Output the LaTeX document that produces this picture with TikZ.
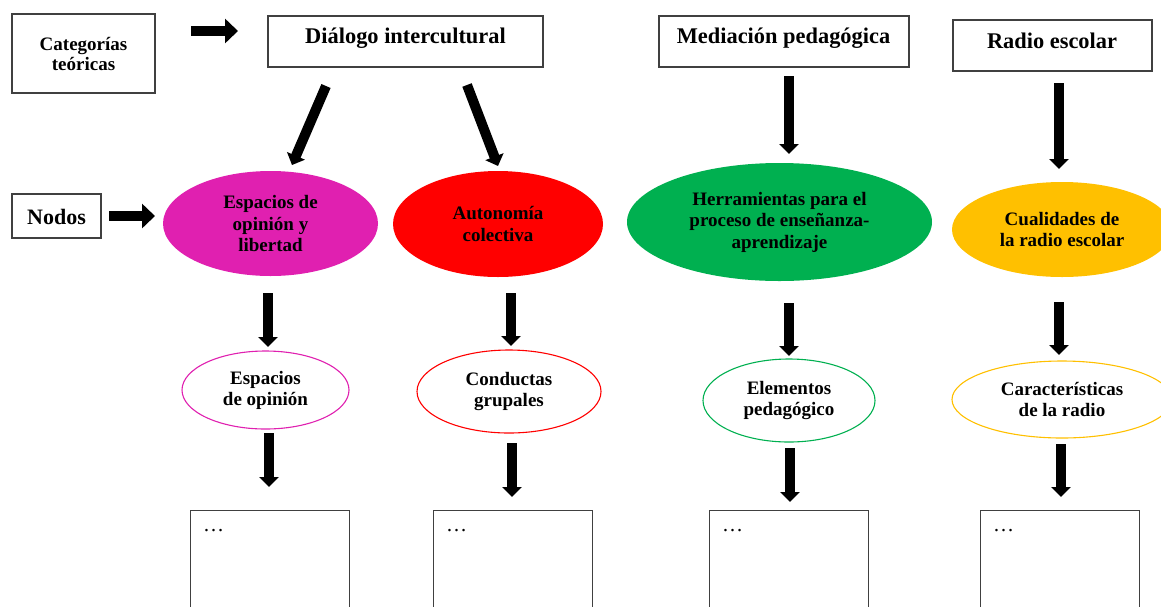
\documentclass[tikz,border=0pt]{standalone}
\usepackage{fontspec}
\setmainfont{Liberation Serif}
\usetikzlibrary{arrows.meta,shapes.geometric}
\definecolor{cmag}{HTML}{E020B0}
\definecolor{cred}{HTML}{FF0000}
\definecolor{cgreen}{HTML}{00B050}
\definecolor{cgold}{HTML}{FFC000}
\definecolor{cframe}{HTML}{404040}
\begin{document}
\begin{tikzpicture}[x=1pt,y=-1pt,
  frame/.style={draw=cframe, line width=1.1pt, rectangle, inner sep=0pt},
  title/.style={font=\bfseries\fontsize{22.4}{26}\selectfont, inner sep=0pt, anchor=base},
  bigell/.style={ellipse, inner sep=0pt, align=center, font=\bfseries\fontsize{19}{21.5}\selectfont},
  smallell/.style={ellipse, fill=white, line width=1.1pt, inner sep=0pt, align=center, font=\bfseries\fontsize{19}{21}\selectfont},
  barrow/.style={line width=10pt, -{Triangle[length=10pt,width=19pt]}},
  harrow/.style={line width=10pt, -{Triangle[length=13pt,width=24pt]}},
  dots/.style={anchor=base west, inner sep=0pt, font=\fontsize{21}{24}\selectfont},
]
\useasboundingbox (0,0) rectangle (1161,606);
\clip (0,0) rectangle (1161,606);

% top boxes
\node[frame, minimum width=143pt, minimum height=79pt] (cat) at (83.5,53.5) {};
\node[inner sep=0pt, align=center, anchor=center, font=\bfseries\fontsize{19}{20.5}\selectfont] (cattext) at (83.5,54) {Categorías\\teóricas};
\node[frame, minimum width=275pt, minimum height=51pt] (dia) at (405.5,41.5) {};
\node[title] (diatext) at (405.5,43) {Diálogo intercultural};
\node[frame, minimum width=250pt, minimum height=51pt] (med) at (784,41.5) {};
\node[title] (medtext) at (783.5,43) {Mediación pedagógica};
\node[frame, minimum width=199pt, minimum height=51pt] (rad) at (1052.5,45.5) {};
\node[title] (radtext) at (1052,48) {Radio escolar};
\node[frame, minimum width=89pt, minimum height=44pt] (nod) at (56.5,216) {};
\node[inner sep=0pt, anchor=base, font=\bfseries\fontsize{22}{26}\selectfont] (nodtext) at (56.5,224) {Nodos};

% big ellipses
\node[bigell, fill=cmag, minimum width=215pt, minimum height=105pt] (mag) at (270.5,223.5) {Espacios de\\opinión y\\libertad};
\node[bigell, fill=cred, minimum width=210pt, minimum height=106pt] (red) at (498,224) {Autonomía\\colectiva};
\node[bigell, fill=cgreen, minimum width=305pt, minimum height=118pt] (grn) at (779.5,222) {Herramientas para el\\proceso de enseñanza-\\aprendizaje};
\node[bigell, fill=cgold, minimum width=220pt, minimum height=95pt] (gold) at (1062,229.5) {Cualidades de\\la radio escolar};

% small ellipses
\node[smallell, draw=cmag, minimum width=167pt, minimum height=78pt] (smag) at (265.5,390) {Espacios\\de opinión};
\node[smallell, draw=cred, minimum width=184pt, minimum height=83pt] (sred) at (509,391.5) {Conductas\\grupales};
\node[smallell, draw=cgreen, minimum width=172pt, minimum height=83pt] (sgrn) at (789,400.5) {Elementos\\pedagógico};
\node[smallell, draw=cgold, minimum width=220pt, minimum height=77pt] (sgold) at (1062,399.5) {Características\\de la radio};

% bottom boxes
\node[frame, fill=white, minimum width=159pt, minimum height=110pt, anchor=north west] (b1) at (190,510) {};
\node[frame, fill=white, minimum width=159pt, minimum height=110pt, anchor=north west] (b2) at (433,510) {};
\node[frame, fill=white, minimum width=159pt, minimum height=110pt, anchor=north west] (b3) at (709,510) {};
\node[frame, fill=white, minimum width=159pt, minimum height=110pt, anchor=north west] (b4) at (980,510) {};
\node[dots] (d1) at (203,531) {…};
\node[dots] (d2) at (446,531) {…};
\node[dots] (d3) at (722,531) {…};
\node[dots] (d4) at (993,531) {…};

% arrow end points
\coordinate (h1a) at (191,31);   \coordinate (h1b) at (238,31);
\coordinate (h2a) at (109,216);  \coordinate (h2b) at (155,216);
\coordinate (d1a) at (326,86);   \coordinate (d1b) at (292,165);
\coordinate (d2a) at (467,85);   \coordinate (d2b) at (498,166);
\coordinate (v1a) at (789,76);   \coordinate (v1b) at (789,154);
\coordinate (v2a) at (1059,83);  \coordinate (v2b) at (1059,169);
\coordinate (v3a) at (268,293);  \coordinate (v3b) at (268,347);
\coordinate (v4a) at (511,293);  \coordinate (v4b) at (511,346);
\coordinate (v5a) at (789,303);  \coordinate (v5b) at (789,356);
\coordinate (v6a) at (1059,302); \coordinate (v6b) at (1059,355);
\coordinate (v7a) at (269,433);  \coordinate (v7b) at (269,487);
\coordinate (v8a) at (512,443);  \coordinate (v8b) at (512,497);
\coordinate (v9a) at (790,448);  \coordinate (v9b) at (790,502);
\coordinate (v10a) at (1061,444); \coordinate (v10b) at (1061,497);

\draw[harrow] (h1a) -- (h1b);
\draw[harrow] (h2a) -- (h2b);
\draw[barrow] (d1a) -- (d1b);
\draw[barrow] (d2a) -- (d2b);
\draw[barrow] (v1a) -- (v1b);
\draw[barrow] (v2a) -- (v2b);
\draw[barrow] (v3a) -- (v3b);
\draw[barrow] (v4a) -- (v4b);
\draw[barrow] (v5a) -- (v5b);
\draw[barrow] (v6a) -- (v6b);
\draw[barrow] (v7a) -- (v7b);
\draw[barrow] (v8a) -- (v8b);
\draw[barrow] (v9a) -- (v9b);
\draw[barrow] (v10a) -- (v10b);
\end{tikzpicture}
\end{document}
